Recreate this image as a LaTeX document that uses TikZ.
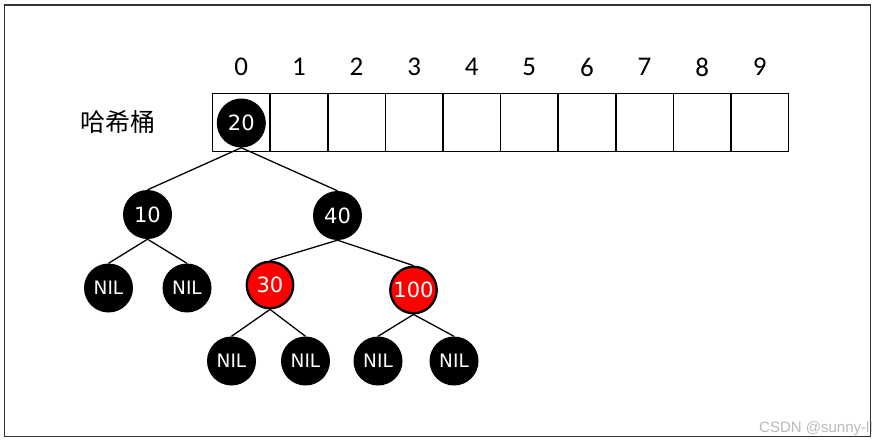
\documentclass[tikz,border=0pt]{standalone}
\usepackage{fontspec}
\setmainfont{Carlito}
\newfontfamily\cjkfont{Noto Sans CJK SC}
\newfontfamily\nodefont{DejaVu Sans}
\newfontfamily\wmfont{Liberation Sans}
\begin{document}
\begin{tikzpicture}[x=1pt,y=-1pt,
  cell/.style={draw=black, line width=1.6pt, minimum width=57.6pt, minimum height=58pt, inner sep=0pt, outer sep=0pt},
  idx/.style={font=\fontsize{27}{30}\selectfont, inner sep=0pt},
  blk/.style={circle, fill=black, minimum size=49pt, inner sep=0pt, text=white, font=\nodefont\fontsize{21}{21}\selectfont},
  nilnode/.style={blk, font=\nodefont\fontsize{18.5}{19}\selectfont},
  rednode/.style={circle, fill=red, draw=black, line width=2.3pt, minimum size=46.5pt, inner sep=0pt, text=white, font=\nodefont\fontsize{21}{21}\selectfont},
  edge/.style={draw=black, line width=1.3pt}]
\useasboundingbox (0,0) rectangle (877,442);
\fill[white] (0,0) rectangle (877,442);
% watermark
\node[anchor=base east, inner sep=0pt, text=black!27, font=\wmfont\fontsize{15}{15}\selectfont] (wm) at (873,432) {CSDN @sunny-ll};
% frame
\draw[draw=black!80, line width=1.8pt] (4.5,5) rectangle (870.5,436.5);
% hash buckets
\foreach \i in {0,...,9} {
  \node[cell] (c\i) at ({212.5+57.6*(\i+0.5)},122.5) {};
  \node[idx] (l\i) at ({212.5+57.6*(\i+0.5)},67) {\i};
}
\node[font=\cjkfont\fontsize{25}{28}\selectfont, inner sep=0pt] (title) at (118,122) {哈希桶};
% tree nodes
\node[blk] (n20) at (241.3,123) {20};
\node[blk] (n10) at (147.5,214.5) {10};
\node[blk] (n40) at (337.5,215.5) {40};
\node[nilnode] (a1) at (108.5,288) {NIL};
\node[nilnode] (a2) at (187,288) {NIL};
\node[rednode] (n30) at (270,285) {30};
\node[rednode] (n100) at (413.5,290) {100};
\node[nilnode] (b1) at (231.5,361) {NIL};
\node[nilnode] (b2) at (305.5,361) {NIL};
\node[nilnode] (b3) at (378,361) {NIL};
\node[nilnode] (b4) at (454,361) {NIL};
% edges
\draw[edge] (n20.south) -- (n10.north);
\draw[edge] (n20.south) -- (n40.north);
\draw[edge] (n10.south) -- (a1.north);
\draw[edge] (n10.south) -- (a2.north);
\draw[edge] (n40.south) -- (n30.north);
\draw[edge] (n40.south) -- (n100.north);
\draw[edge] (n30.south) -- (b1.north);
\draw[edge] (n30.south) -- (b2.north);
\draw[edge] (n100.south) -- (b3.north);
\draw[edge] (n100.south) -- (b4.north);
\end{tikzpicture}
\end{document}
